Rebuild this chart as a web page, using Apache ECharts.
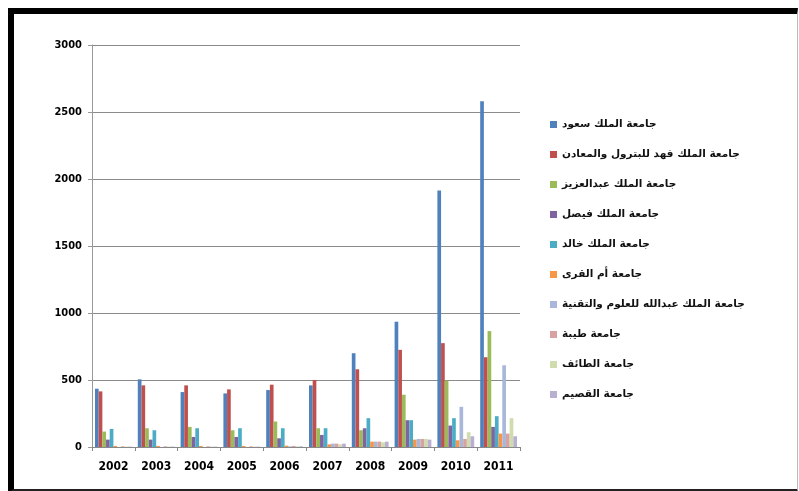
<!doctype html>
<html lang="ar">
<head>
    <meta charset="utf-8">
    <title>chart</title>
    <script type="text/javascript" src="https://cdn.jsdelivr.net/npm/echarts@6/dist/echarts.min.js"></script>
    <style>
        html, body { margin: 0; padding: 0; background: #ffffff; }
        #frame {
            position: absolute; left: 8px; top: 8px; width: 783px; height: 475px;
            border-left: 6px solid #000; border-top: 6px solid #000;
            border-bottom: 3px solid #222; border-right: 1px solid #bbb;
        }
        #main { position: absolute; left: 0; top: 0; width: 799px; height: 491px; }
    </style>
</head>
<body>
<div id="frame"></div>
<div id="main"></div>
<script type="text/javascript">
    // years on the x axis
    var years = ['2002', '2003', '2004', '2005', '2006', '2007', '2008', '2009', '2010', '2011'];

    // universities (legend order)
    var names = [
        'جامعة الملك سعود',
        'جامعة الملك فهد للبترول والمعادن',
        'جامعة الملك عبدالعزيز',
        'جامعة الملك فيصل',
        'جامعة الملك خالد',
        'جامعة أم القرى',
        'جامعة الملك عبدالله للعلوم والتقنية',
        'جامعة طيبة',
        'جامعة الطائف',
        'جامعة القصيم'
    ];

    var kingSaud      = [435, 505, 410, 400, 425, 460, 700, 935, 1915, 2580];
    var kingFahd      = [415, 460, 460, 430, 465, 500, 580, 725, 775, 670];
    var kingAbdulaziz = [115, 140, 150, 125, 190, 140, 125, 390, 495, 865];
    var kingFaisal    = [55, 55, 75, 75, 65, 90, 140, 200, 160, 150];
    var kingKhalid    = [135, 125, 140, 140, 140, 140, 215, 200, 215, 230];
    var ummAlQura     = [8, 8, 8, 8, 10, 20, 40, 55, 50, 100];
    var kaust         = [0, 0, 0, 0, 5, 25, 40, 60, 300, 610];
    var taibah        = [5, 5, 5, 5, 8, 25, 40, 60, 60, 100];
    var taif          = [3, 3, 3, 3, 5, 20, 35, 60, 110, 215];
    var qassim        = [3, 3, 3, 3, 5, 25, 40, 55, 80, 80];

    var values = [kingSaud, kingFahd, kingAbdulaziz, kingFaisal, kingKhalid,
        ummAlQura, kaust, taibah, taif, qassim];

    var colors = ['#4F81BD', '#C0504D', '#9BBB59', '#8064A2', '#4BACC6',
        '#F79646', '#A9B7DA', '#D9A2A2', '#CFDCAE', '#B9AFD0'];

    var series = [];
    for (var i = 0; i < names.length; i++) {
        series.push({
            name: names[i],
            type: 'bar',
            data: values[i],
            barGap: '0%',
            barCategoryGap: '14%',
            itemStyle: {color: colors[i]}
        });
    }

    var myChart = echarts.init(document.getElementById('main'));
    var option = {
        animation: false,
        color: colors,
        textStyle: {fontFamily: 'DejaVu Sans'},
        grid: {left: 92, right: 279, top: 45, bottom: 44},
        legend: {
            orient: 'vertical',
            left: 545,
            top: 114,
            itemWidth: 7,
            itemHeight: 7,
            itemGap: 19,
            icon: 'rect',
            textStyle: {
                fontFamily: 'DejaVu Sans',
                fontSize: 10.5,
                fontWeight: 'bold',
                color: '#111'
            },
            data: names
        },
        xAxis: {
            type: 'category',
            data: years,
            axisLine: {lineStyle: {color: '#888', width: 1}},
            axisTick: {show: true, alignWithLabel: false, length: 4, lineStyle: {color: '#888'}},
            axisLabel: {
                color: '#000', fontWeight: 'bold', fontSize: 12,
                fontFamily: 'DejaVu Sans Condensed', margin: 14
            }
        },
        yAxis: {
            type: 'value',
            min: 0,
            max: 3000,
            interval: 500,
            axisLine: {show: true, lineStyle: {color: '#999'}},
            axisTick: {show: true, length: 4, lineStyle: {color: '#999'}},
            splitLine: {lineStyle: {color: '#8a8a8a', width: 1}},
            axisLabel: {
                color: '#000', fontWeight: 'bold', fontSize: 11,
                fontFamily: 'DejaVu Sans Condensed', margin: 10,
                formatter: function (v) { return String(v); }
            }
        },
        series: series
    };
    option && myChart.setOption(option);
</script>
</body>
</html>
